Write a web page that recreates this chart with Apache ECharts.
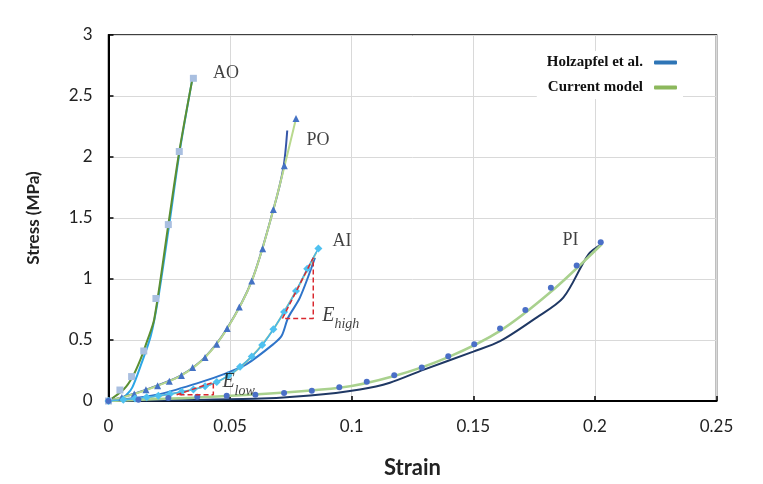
<!DOCTYPE html>
<html>
<head>
<meta charset="utf-8">
<script src="https://cdn.jsdelivr.net/npm/echarts@6/dist/echarts.min.js"></script>
<style>
    html, body { margin: 0; padding: 0; background: #fff; }
    #StressStrain { width: 763px; height: 484px; }
</style>
</head>
<body>
<div id="StressStrain"></div>
<script>
// axis ticks
var xTicks = {min: 0, max: 0.25, interval: 0.05};
var yTicks = {min: 0, max: 3, interval: 0.5};

// AO (strain, stress)
var aoPoints = [[0, 0], [0.0047, 0.09], [0.0095, 0.2], [0.0145, 0.41], [0.0195, 0.84], [0.0246, 1.446], [0.0291, 2.045], [0.0349, 2.645]];
var aoModel = [[0, 0], [0.0064, 0.098], [0.0098, 0.194], [0.0132, 0.343], [0.0159, 0.493], [0.0188, 0.67], [0.0246, 1.446], [0.0291, 2.045], [0.0345, 2.64]];
var aoHolz = [[0, 0], [0.0036, 0.002], [0.0077, 0.057], [0.0098, 0.112], [0.0132, 0.288], [0.0174, 0.534], [0.0205, 0.85], [0.025, 1.45], [0.0293, 2.05], [0.0343, 2.62]];

// PO
var poPoints = [[0.0055, 0.028], [0.0106, 0.057], [0.0154, 0.093], [0.0202, 0.125], [0.025, 0.162], [0.03, 0.21], [0.0346, 0.275], [0.0397, 0.357], [0.0445, 0.466], [0.0488, 0.594], [0.0538, 0.77], [0.0589, 0.983], [0.0634, 1.248], [0.0678, 1.569], [0.0723, 1.928], [0.0771, 2.315]];
var poModel = [[0, 0], [0.0106, 0.057], [0.0202, 0.125], [0.03, 0.21], [0.0397, 0.357], [0.0488, 0.594], [0.0589, 0.983], [0.0678, 1.569], [0.0771, 2.315]];
var poHolz = [[0, 0], [0.0106, 0.06], [0.0202, 0.128], [0.03, 0.212], [0.0397, 0.36], [0.0488, 0.596], [0.0589, 0.985], [0.0678, 1.57], [0.0719, 1.91], [0.0735, 2.217]];

// AI
var aiPoints = [[0, 0], [0.0061, 0.01], [0.0109, 0.02], [0.0157, 0.03], [0.0205, 0.043], [0.0253, 0.057], [0.0301, 0.075], [0.0349, 0.095], [0.0397, 0.12], [0.0445, 0.155], [0.0493, 0.207], [0.0541, 0.28], [0.0589, 0.365], [0.0632, 0.458], [0.0678, 0.588], [0.0722, 0.73], [0.0771, 0.901], [0.0817, 1.084], [0.0863, 1.25]];
var aiModel = [[0, 0], [0.0205, 0.04], [0.0397, 0.12], [0.0493, 0.207], [0.0589, 0.365], [0.0678, 0.588], [0.0771, 0.901], [0.0855, 1.22]];
var aiHolz = [[0, 0], [0.0198, 0.051], [0.0376, 0.153], [0.0486, 0.229], [0.0568, 0.302], [0.0678, 0.466], [0.0712, 0.534], [0.0739, 0.684], [0.0787, 0.847], [0.0849, 1.174]];

// PI
var piPoints = [[0, 0], [0.0123, 0.011], [0.0246, 0.025], [0.0365, 0.035], [0.0486, 0.043], [0.0604, 0.051], [0.0722, 0.065], [0.0836, 0.084], [0.0949, 0.112], [0.1062, 0.158], [0.1175, 0.212], [0.1288, 0.275], [0.1397, 0.366], [0.1504, 0.466], [0.161, 0.594], [0.1714, 0.746], [0.1819, 0.929], [0.1925, 1.111], [0.2024, 1.301]];
var piModel = [[0, 0], [0.0486, 0.04], [0.0949, 0.108], [0.1175, 0.205], [0.1397, 0.36], [0.161, 0.575], [0.1819, 0.895], [0.2028, 1.285]];
var piHolz = [[0, 0], [0.06, 0.018], [0.0829, 0.045], [0.1034, 0.095], [0.1157, 0.15], [0.1294, 0.255], [0.15, 0.405], [0.161, 0.49], [0.176, 0.684], [0.187, 0.847], [0.1973, 1.2], [0.2028, 1.285]];

// modulus triangles
var eHigh = [[0.0715, 0.676], [0.0842, 1.174], [0.0842, 0.676], [0.0715, 0.676]];
var eLow = [[0.028, 0.051], [0.0431, 0.153], [0.0431, 0.051], [0.028, 0.051]];

// curve names and where they sit
var curveLabels = [[0.0483, 2.69, 'AO'], [0.0861, 2.14, 'PO'], [0.096, 1.307, 'AI'], [0.19, 1.32, 'PI']];
var modLabels = [[0.0955, 0.71, 'high'], [0.0535, 0.165, 'low']];

var serif = '"Liberation Serif", "Times New Roman", serif';

function curve(name, data, color, width) {
    return {
        name: name,
        type: 'line',
        data: data,
        smooth: 0.3,
        symbol: 'none',
        lineStyle: {color: color, width: width || 2},
        z: 3
    };
}

function points(name, data, symbol, size, color, lineColor) {
    return {
        name: name,
        type: 'line',
        data: data,
        smooth: 0.3,
        symbol: symbol,
        symbolSize: size,
        showSymbol: true,
        itemStyle: {color: color},
        lineStyle: lineColor ? {color: lineColor, width: 1.5} : {width: 0, opacity: 0},
        z: 4
    };
}

function triangle(data) {
    return {
        name: 'E',
        type: 'line',
        data: data,
        symbol: 'none',
        lineStyle: {color: '#d9282f', width: 1.5, type: [5, 3]},
        z: 5
    };
}

var chart = echarts.init(document.getElementById('StressStrain'));
var option = {
    backgroundColor: '#fff',
    animation: false,
    grid: {
        left: 108.5,
        right: 46.5,
        top: 35,
        bottom: 82,
        show: true,
        borderColor: '#000',
        borderWidth: 1.5
    },
    legend: {
        orient: 'vertical',
        right: 80,
        top: 51,
        align: 'right',
        itemWidth: 23,
        itemHeight: 4,
        itemGap: 10,
        padding: [4, 6, 4, 10],
        backgroundColor: '#fff',
        textStyle: {fontFamily: serif, fontWeight: 'bold', fontSize: 15, color: '#111', padding: [0, 6, 0, 0]},
        data: [
            {name: 'Holzapfel et al.', icon: 'roundRect', itemStyle: {color: '#2e75b6'}},
            {name: 'Current model', icon: 'roundRect', itemStyle: {color: '#8cb85c'}}
        ]
    },
    xAxis: {
        type: 'value',
        min: xTicks.min,
        max: xTicks.max,
        interval: xTicks.interval,
        name: 'Strain',
        nameLocation: 'middle',
        nameGap: 56,
        nameTextStyle: {fontFamily: 'Lato', fontWeight: 'bold', fontSize: 22, color: '#222'},
        axisLine: {lineStyle: {color: '#000', width: 2}},
        axisTick: {inside: true, length: 5, lineStyle: {color: '#000', width: 1.5}},
        axisLabel: {fontFamily: 'Lato', fontSize: 17, color: '#222', margin: 17},
        splitLine: {lineStyle: {color: '#d9d9d9', width: 1}}
    },
    yAxis: {
        type: 'value',
        min: yTicks.min,
        max: yTicks.max,
        interval: yTicks.interval,
        name: 'Stress (MPa)',
        nameLocation: 'middle',
        nameRotate: 90,
        nameGap: 66,
        nameTextStyle: {fontFamily: 'Lato', fontWeight: 'bold', fontSize: 17, color: '#222'},
        axisLine: {show: true, lineStyle: {color: '#000', width: 2}},
        axisTick: {show: true, inside: true, length: 5, lineStyle: {color: '#000', width: 1.5}},
        axisLabel: {fontFamily: 'Lato', fontSize: 17, color: '#222', margin: 16},
        splitLine: {lineStyle: {color: '#d9d9d9', width: 1}}
    },
    series: [
        curve('Holzapfel et al.', aoHolz, '#2ba6e6'),
        curve('Current model', aoModel, '#5b8f32'),
        points('AO test', aoPoints, 'rect', 7, '#a9bfe0'),

        curve('Holzapfel et al.', poHolz, '#3556a8'),
        curve('Current model', poModel, '#b9d98e'),
        points('PO test', poPoints, 'triangle', 7, '#4472c4'),

        curve('Holzapfel et al.', aiHolz, '#2f74c9'),
        curve('Current model', aiModel, '#a8d08d'),
        points('AI test', aiPoints, 'diamond', 8, '#4fc1f0', '#48b4ea'),

        curve('Holzapfel et al.', piHolz, '#1f3864'),
        curve('Current model', piModel, '#a9d18e', 2.5),
        points('PI test', piPoints, 'circle', 6, '#4a6fc7'),

        triangle(eHigh),
        triangle(eLow),
        {
            name: 'curve names',
            type: 'scatter',
            data: curveLabels,
            symbolSize: 0,
            silent: true,
            label: {
                show: true,
                position: 'inside',
                formatter: function (p) { return p.data[2]; },
                fontFamily: serif,
                fontSize: 18,
                color: '#111'
            },
            z: 6
        },
        {
            name: 'modulus names',
            type: 'scatter',
            data: modLabels,
            symbolSize: 0,
            silent: true,
            label: {
                show: true,
                position: 'inside',
                formatter: function (p) { return '{e|E}{s|' + p.data[2] + '}'; },
                rich: {
                    e: {fontFamily: serif, fontStyle: 'italic', fontSize: 20, color: '#111', verticalAlign: 'bottom', lineHeight: 22},
                    s: {fontFamily: serif, fontStyle: 'italic', fontSize: 14, color: '#111', verticalAlign: 'bottom', lineHeight: 22, padding: [0, 0, -6, 0]}
                }
            },
            z: 6
        }
    ]
};
chart.setOption(option);
</script>
</body>
</html>
